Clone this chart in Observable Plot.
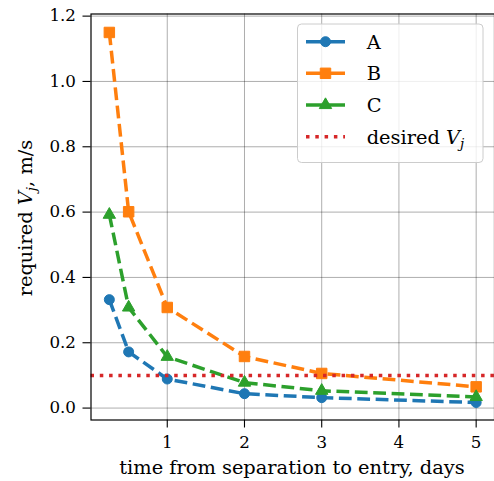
<!DOCTYPE html>
<html><head><meta charset="utf-8">
<script src="https://cdn.jsdelivr.net/npm/d3@7"></script>
<script src="https://cdn.jsdelivr.net/npm/@observablehq/plot@0.6"></script>
<style>body{margin:0;background:#fff} svg{display:block}</style>
</head><body><div id="chart"></div>
<script>
const days = [0.25, 0.5, 1, 2, 3, 5];
const seriesA = [0.332, 0.172, 0.089, 0.044, 0.032, 0.017];
const seriesB = [1.150, 0.601, 0.308, 0.158, 0.106, 0.065];
const seriesC = [0.592, 0.308, 0.157, 0.078, 0.053, 0.034];
const desiredVj = 0.1;
const seriesNames = ["A", "B", "C"];
const seriesColors = ["#1f77b4", "#ff7f0e", "#2ca02c"];
const desiredColor = "#d62728";
const seriesSymbols = ["circle", "square", "triangle"];
const seriesR = [5, 5.9, 4.6];
const xTicks = [1, 2, 3, 4, 5];
const yTicks = [0, 0.2, 0.4, 0.6, 0.8, 1.0, 1.2];
const xLabel = "time from separation to entry, days";

const allSeries = [seriesA, seriesB, seriesC];
const FONT = "DejaVu Serif";
const FS = 16.7;   // tick labels
const LFS = 19.4;  // axis labels and legend

const marks = [
  Plot.gridX(xTicks, {stroke: "#000", strokeOpacity: 0.32, strokeWidth: 1}),
  Plot.gridY(yTicks, {stroke: "#000", strokeOpacity: 0.32, strokeWidth: 1}),
  Plot.axisX(xTicks, {tickSize: 8, tickPadding: 8.5, label: null, fontSize: FS, strokeWidth: 1.1}),
  Plot.axisY(yTicks, {tickSize: 8, tickPadding: 7, label: null, fontSize: FS, strokeWidth: 1.1, tickFormat: d3.format(".1f")}),
];
allSeries.forEach((vals, i) => {
  const rows = days.map((d, k) => ({x: d, y: vals[k]}));
  marks.push(Plot.line(rows, {x: "x", y: "y", stroke: seriesColors[i], strokeWidth: 3.5, strokeDasharray: "12.8,5.6", strokeLinecap: "butt"}));
  marks.push(Plot.dot(rows, {x: "x", y: "y", fill: seriesColors[i], stroke: seriesColors[i], strokeWidth: 1, symbol: seriesSymbols[i], r: seriesR[i]}));
});
marks.push(Plot.ruleY([desiredVj], {stroke: desiredColor, strokeWidth: 3.5, strokeDasharray: "3.5,5.8"}));
marks.push(Plot.frame({stroke: "#000", strokeWidth: 1.2}));

const svg = Plot.plot({
  width: 494, height: 481,
  marginLeft: 90.5, marginRight: 0, marginTop: 13.5, marginBottom: 61.5,
  x: {domain: [0.0125, 5.2375]},
  y: {domain: [-0.0365, 1.2065]},
  style: {fontFamily: FONT, fontSize: FS + "px", color: "#000", background: "#fff"},
  marks
});
document.getElementById("chart").appendChild(svg);

const s = d3.select(svg);
// y label
const yl = s.append("text")
  .attr("transform", "translate(32,218) rotate(-90)")
  .attr("text-anchor", "middle")
  .attr("font-family", FONT).attr("font-size", LFS).attr("fill", "#000");
yl.append("tspan").text("required ");
yl.append("tspan").attr("font-style", "italic").text("V");
yl.append("tspan").attr("font-style", "italic").attr("font-size", 13.6).attr("dy", 4).text("j");
yl.append("tspan").attr("dy", -4).text(", m/s");
// x label
s.append("text").attr("x", 292).attr("y", 474).attr("text-anchor", "middle")
  .attr("font-family", FONT).attr("font-size", LFS).attr("fill", "#000").text(xLabel);

// legend
const lg = s.append("g").attr("text-anchor", "start");
lg.append("rect").attr("x", 297.5).attr("y", 24).attr("width", 185.5).attr("height", 138.5)
  .attr("rx", 4).attr("fill", "#fff").attr("fill-opacity", 0.8).attr("stroke", "#ccc").attr("stroke-width", 1);
const rowsY = [41.7, 73.3, 105, 136.7];
seriesNames.forEach((name, i) => {
  const y = rowsY[i];
  lg.append("line").attr("x1", 306).attr("x2", 345).attr("y1", y).attr("y2", y)
    .attr("stroke", seriesColors[i]).attr("stroke-width", 3.5);
  const sym = d3.symbol().type(i === 0 ? d3.symbolCircle : i === 1 ? d3.symbolSquare : d3.symbolTriangle)
    .size(Math.PI * seriesR[i] * seriesR[i]);
  lg.append("path").attr("d", sym()).attr("transform", `translate(325.5,${y})`)
    .attr("fill", seriesColors[i]).attr("stroke", seriesColors[i]).attr("stroke-width", 1);
  lg.append("text").attr("x", 366.7).attr("y", y).attr("dy", "0.36em").attr("text-anchor", "start")
    .attr("font-family", FONT).attr("font-size", LFS).attr("fill", "#000").text(name);
});
lg.append("line").attr("x1", 306).attr("x2", 345).attr("y1", rowsY[3]).attr("y2", rowsY[3])
  .attr("stroke", desiredColor).attr("stroke-width", 3.5).attr("stroke-dasharray", "3.5,5.8");
const dt = lg.append("text").attr("x", 366.7).attr("y", rowsY[3]).attr("dy", "0.36em").attr("text-anchor", "start")
  .attr("font-family", FONT).attr("font-size", LFS).attr("fill", "#000");
dt.append("tspan").text("desired ");
dt.append("tspan").attr("font-style", "italic").text("V");
dt.append("tspan").attr("font-style", "italic").attr("font-size", 13.6).attr("dy", 4).text("j");
</script>
</body></html>
